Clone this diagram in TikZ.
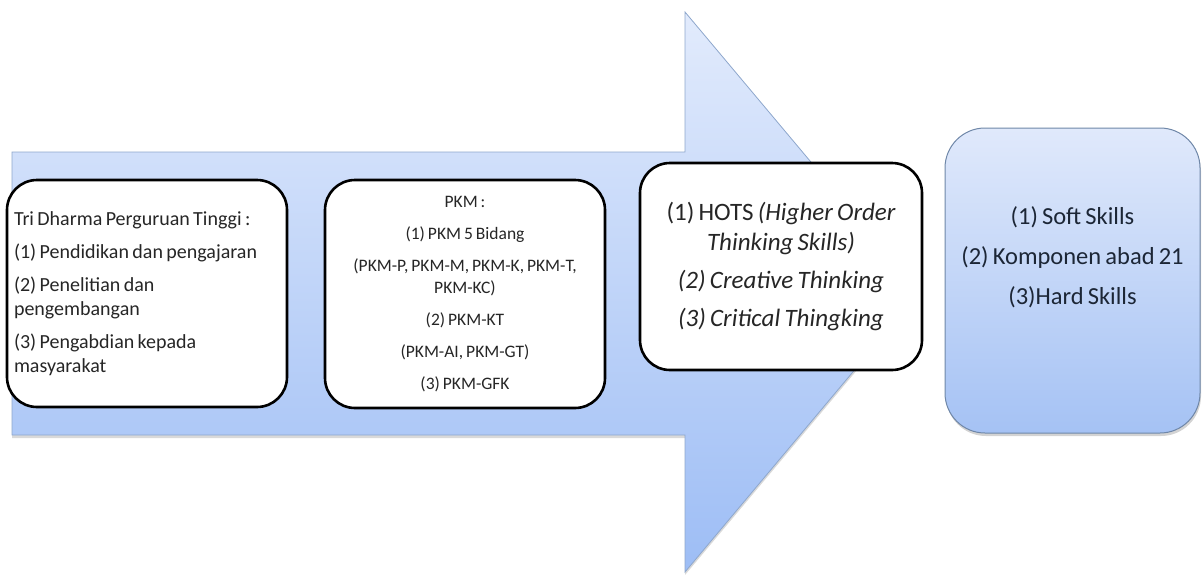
\documentclass[tikz,border=0pt]{standalone}
\usepackage{fontspec}
\setmainfont{Carlito}[WordSpace=0.75]
\usetikzlibrary{shadows}

\definecolor{arrowtop}{HTML}{E2EBFC}
\definecolor{arrowbot}{HTML}{9DBDF5}
\definecolor{arrowline}{HTML}{8EA7CC}
\definecolor{goaltop}{HTML}{E0E9FB}
\definecolor{goalbot}{HTML}{A5C2F4}
\definecolor{goalline}{HTML}{6F87A8}
\definecolor{textgray}{HTML}{262626}
\definecolor{textnavy}{HTML}{1C2636}

\begin{document}
\begin{tikzpicture}[x=1pt,y=-1pt,
	stagebox/.style={draw=black,line width=2.6pt,fill=white,rounded corners=30pt,
		inner sep=7pt,text=textgray},
	goalbox/.style={draw=goalline,line width=1pt,rounded corners=40pt,
		top color=goaltop,bottom color=goalbot,
		drop shadow={shadow xshift=1pt,shadow yshift=-3pt,opacity=.35}}]
	\useasboundingbox (0,0) rectangle (1202,574);

	% big arrow behind the stages
	\draw[arrowline,line width=.8pt,top color=arrowtop,bottom color=arrowbot,
		drop shadow={shadow xshift=0pt,shadow yshift=-3pt,opacity=.3}]
		(12,152)--(685,152)--(685,12)--(920,292)--(685,572)--(685,435)--(12,435)--cycle;

	% stages
	\node[stagebox,minimum width=280,minimum height=227,text width=266,align=flush left,
		font=\fontsize{20}{24}\selectfont] (tridharma) at (147,293.5)
		{Tri Dharma Perguruan Tinggi :\\[9pt]
		 (1) Pendidikan dan pengajaran\\[9pt]
		 (2) Penelitian dan\\ pengembangan\\[9pt]
		 (3) Pengabdian kepada\\ masyarakat};

	\node[stagebox,minimum width=280,minimum height=228,text width=266,align=flush center,
		font=\fontsize{17.5}{22}\selectfont] (pkm) at (465,294)
		{PKM :\\[10pt]
		 (1) PKM 5 Bidang\\[10pt]
		 (PKM-P, PKM-M, PKM-K, PKM-T,\\ PKM-KC)\\[10pt]
		 (2) PKM-KT\\[10pt]
		 (PKM-AI, PKM-GT)\\[10pt]
		 (3) PKM-GFK};

	\node[stagebox,minimum width=282,minimum height=207,text width=268,align=flush center,
		font=\fontsize{25}{30}\selectfont] (hots) at (781,266.5)
		{(1) HOTS \textit{(Higher Order\\ Thinking Skills)}\\[8pt]
		 \textit{(2) Creative Thinking}\\[8pt]
		 \textit{(3) Critical Thingking}};

	% outcome
	\node[goalbox,minimum width=255,minimum height=305] (skills) at (1072.5,280.5) {};
	\node[text=textnavy,align=center,font=\fontsize{24.5}{40}\selectfont]
		(skillstext) at (1072.5,257)
		{(1) Soft Skills\\ (2) Komponen abad 21\\ (3)Hard Skills};

\end{tikzpicture}
\end{document}
